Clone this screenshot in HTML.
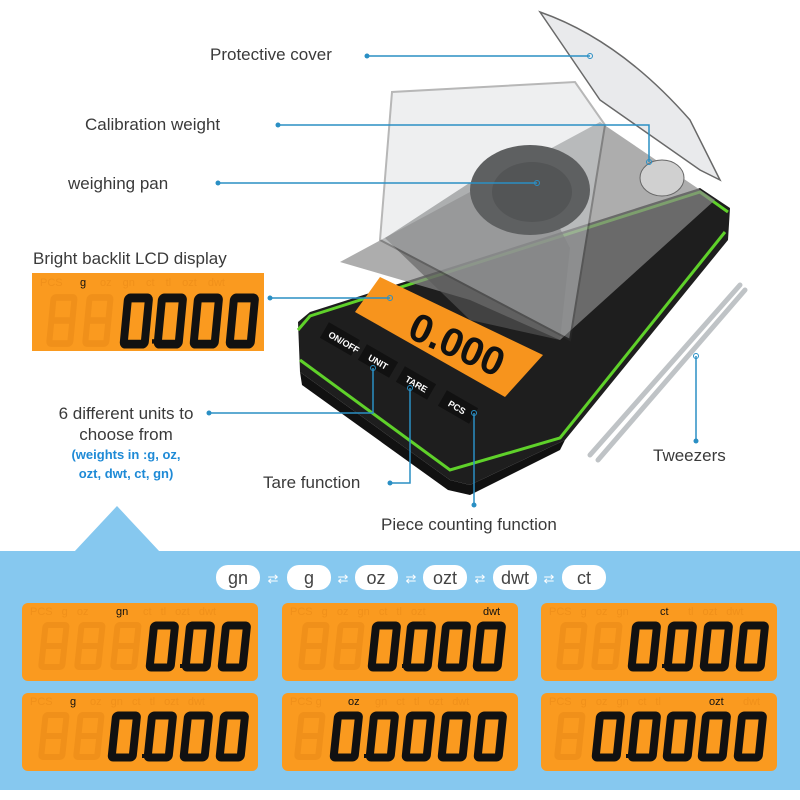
<!DOCTYPE html>
<html><head><meta charset="utf-8"><style>
html,body{margin:0;padding:0;background:#fff}
svg{display:block}
.lb{font-family:"Liberation Sans",sans-serif;font-size:17px;fill:#3a3a3a}
.bl{font-family:"Liberation Sans",sans-serif;font-size:13px;fill:#1e8ad6;font-weight:bold}
.ld{stroke:#2a8fc4;stroke-width:1.5;fill:none}
.dot{fill:#2a8fc4}
.u{font-family:"Liberation Sans",sans-serif;font-size:11px;fill:#f0901a}
.ub{font-family:"Liberation Sans",sans-serif;font-size:11px;fill:#111}
.chip{font-family:"Liberation Sans",sans-serif;font-size:18px;fill:#444;text-anchor:middle}
</style></head><body>
<svg width="800" height="800" viewBox="0 0 800 800" xmlns="http://www.w3.org/2000/svg">
<defs>
<g id="d0"><rect x="4.5" y="4.5" width="21" height="42" rx="2" fill="none" stroke="#111" stroke-width="8" transform="skewX(-6)"/></g>
<g id="d8"><rect x="4" y="4" width="21" height="42" rx="2" fill="none" stroke="#f0901a" stroke-width="6" transform="skewX(-6)"/><line x1="2" y1="25" x2="25" y2="25" stroke="#f0901a" stroke-width="6"/></g>
<g id="dp"><rect width="4" height="4" fill="#111"/></g>
</defs>

<rect x="0" y="551" width="800" height="239" fill="#86c8ef"/>
<polygon points="74,552 160,552 117,506" fill="#86c8ef"/>

<g>
<rect x="216" y="565" width="44" height="25" rx="12" fill="#fff"/><text class="chip" x="238" y="584">gn</text>
<rect x="287" y="565" width="44" height="25" rx="12" fill="#fff"/><text class="chip" x="309" y="584">g</text>
<rect x="355" y="565" width="43" height="25" rx="12" fill="#fff"/><text class="chip" x="376" y="584">oz</text>
<rect x="423" y="565" width="44" height="25" rx="12" fill="#fff"/><text class="chip" x="445" y="584">ozt</text>
<rect x="493" y="565" width="44" height="25" rx="12" fill="#fff"/><text class="chip" x="515" y="584">dwt</text>
<rect x="562" y="565" width="44" height="25" rx="12" fill="#fff"/><text class="chip" x="584" y="584">ct</text>
<g fill="#fff" font-family="Liberation Sans" font-size="13" text-anchor="middle">
<text x="273" y="583">⇄</text><text x="343" y="583">⇄</text><text x="411" y="583">⇄</text><text x="480" y="583">⇄</text><text x="549" y="583">⇄</text></g>
</g>

<g>
<rect x="22" y="603" width="236" height="78" rx="6" fill="#fa9a1f"/>
<rect x="282" y="603" width="236" height="78" rx="6" fill="#fa9a1f"/>
<rect x="541" y="603" width="236" height="78" rx="6" fill="#fa9a1f"/>
<rect x="22" y="693" width="236" height="78" rx="6" fill="#fa9a1f"/>
<rect x="282" y="693" width="236" height="78" rx="6" fill="#fa9a1f"/>
<rect x="541" y="693" width="236" height="78" rx="6" fill="#fa9a1f"/>
</g>
<g>
<text class="u" x="30" y="615" word-spacing="6">PCS  g  oz</text><text class="ub" x="116" y="615">gn</text><text class="u" x="143" y="615" word-spacing="6">ct  tl  ozt  dwt</text>
<text class="u" x="290" y="615" word-spacing="6">PCS  g  oz  gn  ct  tl  ozt</text><text class="ub" x="483" y="615">dwt</text>
<text class="u" x="549" y="615" word-spacing="6">PCS  g  oz  gn</text><text class="ub" x="660" y="615">ct</text><text class="u" x="688" y="615" word-spacing="6">tl  ozt  dwt</text>
<text class="u" x="30" y="705">PCS</text><text class="ub" x="70" y="705">g</text><text class="u" x="90" y="705" word-spacing="6">oz  gn  ct  tl  ozt  dwt</text>
<text class="u" x="290" y="705">PCS  g</text><text class="ub" x="348" y="705">oz</text><text class="u" x="375" y="705" word-spacing="6">gn  ct  tl  ozt  dwt</text>
<text class="u" x="549" y="705" word-spacing="6">PCS  g  oz  gn  ct  tl</text><text class="ub" x="709" y="705">ozt</text><text class="u" x="743" y="705">dwt</text>
</g>
<g>
<use href="#d8" x="42" y="621"/><use href="#d8" x="78" y="621"/><use href="#d8" x="114" y="621"/>
<use href="#d0" x="150" y="621"/><use href="#dp" x="180" y="664"/><use href="#d0" x="186" y="621"/><use href="#d0" x="222" y="621"/>
<use href="#d8" x="302" y="621"/><use href="#d8" x="337" y="621"/>
<use href="#d0" x="372" y="621"/><use href="#dp" x="402" y="664"/><use href="#d0" x="407" y="621"/><use href="#d0" x="442" y="621"/><use href="#d0" x="477" y="621"/>
<use href="#d8" x="560" y="621"/><use href="#d8" x="595" y="621"/>
<use href="#d0" x="632" y="621"/><use href="#dp" x="662" y="664"/><use href="#d0" x="668" y="621"/><use href="#d0" x="704" y="621"/><use href="#d0" x="740" y="621"/>
</g>
<g>
<use href="#d8" x="42" y="711"/><use href="#d8" x="77" y="711"/>
<use href="#d0" x="112" y="711"/><use href="#dp" x="142" y="754"/><use href="#d0" x="148" y="711"/><use href="#d0" x="184" y="711"/><use href="#d0" x="220" y="711"/>
<use href="#d8" x="298" y="711"/>
<use href="#d0" x="334" y="711"/><use href="#dp" x="364" y="754"/><use href="#d0" x="370" y="711"/><use href="#d0" x="406" y="711"/><use href="#d0" x="442" y="711"/><use href="#d0" x="478" y="711"/>
<use href="#d8" x="558" y="711"/>
<use href="#d0" x="596" y="711"/><use href="#dp" x="626" y="754"/><use href="#d0" x="632" y="711"/><use href="#d0" x="667" y="711"/><use href="#d0" x="702" y="711"/><use href="#d0" x="738" y="711"/>
</g>

<rect x="32" y="273" width="232" height="78" fill="#fa9a1f"/>
<text class="u" x="40" y="286" word-spacing="6">PCS</text><text class="ub" x="80" y="286">g</text><text class="u" x="100" y="286" word-spacing="8">oz  gn  ct  tl  ozt  dwt</text>
<g transform="translate(0,-4) scale(1,1.1)">
<use href="#d8" x="50" y="270"/><use href="#d8" x="86" y="270"/>
<use href="#d0" x="124" y="270"/><use href="#dp" x="152" y="312"/><use href="#d0" x="158" y="270"/><use href="#d0" x="194" y="270"/><use href="#d0" x="230" y="270"/>
</g>

<polygon points="298,322 310,312 700,188 730,208 728,240 565,440 470,485 450,480 300,372" fill="#1e1e1e"/>
<polyline points="298,330 310,316 700,192 728,212" fill="none" stroke="#5fd12a" stroke-width="3"/>
<polyline points="300,360 450,470 560,438 725,232" fill="none" stroke="#5fd12a" stroke-width="3"/>
<polygon points="300,372 450,480 470,485 565,440 560,450 470,495 448,490 302,385" fill="#111"/>
<polygon points="340,262 600,122 715,200 560,340 470,300" fill="#8a8a8a" opacity="0.7"/>
<polygon points="385,238 470,320 560,340 570,248 520,150" fill="#5a5a5a" opacity="0.6"/>
<ellipse cx="530" cy="190" rx="60" ry="45" fill="#222"/>
<ellipse cx="532" cy="192" rx="40" ry="30" fill="#111"/>
<ellipse cx="662" cy="178" rx="22" ry="18" fill="#d0d0d0" stroke="#666"/>
<path d="M380,240 L392,92 L575,82 L605,125 L570,340 Z" fill="#cfd3d6" opacity="0.35" stroke="#333" stroke-width="2"/>
<path d="M540,12 Q620,40 690,120 L720,180 L700,170 L600,100 Z" fill="#e4e6e8" opacity="0.8" stroke="#444" stroke-width="1.5"/>
<polygon points="380,277 543,355 505,397 355,312" fill="#f7941d"/>
<text x="405" y="360" font-family="Liberation Sans" font-size="40" font-weight="bold" fill="#111" transform="rotate(24 460 350)">0.000</text>
<g font-family="Liberation Sans" font-size="9" fill="#fff" font-weight="bold">
<rect x="322" y="330" width="36" height="18" fill="#111" transform="rotate(30 340 339)"/><text x="328" y="343" transform="rotate(30 340 339)">ON/OFF</text>
<rect x="360" y="352" width="36" height="18" fill="#111" transform="rotate(30 378 361)"/><text x="368" y="365" transform="rotate(30 378 361)">UNIT</text>
<rect x="398" y="374" width="36" height="18" fill="#111" transform="rotate(30 416 383)"/><text x="405" y="387" transform="rotate(30 416 383)">TARE</text>
<rect x="440" y="398" width="36" height="18" fill="#111" transform="rotate(30 458 407)"/><text x="448" y="411" transform="rotate(30 458 407)">PCS</text>
</g>
<path d="M590,455 L740,285 M598,460 L745,290" stroke="#bfc3c6" stroke-width="5" fill="none" stroke-linecap="round"/>

<text class="lb" x="210" y="60">Protective cover</text>
<text class="lb" x="85" y="130">Calibration weight</text>
<text class="lb" x="68" y="189">weighing pan</text>
<text class="lb" x="33" y="264">Bright backlit LCD display</text>
<text class="lb" x="126" y="419" text-anchor="middle">6 different units to</text>
<text class="lb" x="126" y="440" text-anchor="middle">choose from</text>
<text class="bl" x="126" y="459" text-anchor="middle">(weights in :g, oz,</text>
<text class="bl" x="126" y="478" text-anchor="middle">ozt, dwt, ct, gn)</text>
<text class="lb" x="263" y="488">Tare function</text>
<text class="lb" x="381" y="530">Piece counting function</text>
<text class="lb" x="653" y="461">Tweezers</text>

<polyline class="ld" points="367,56 590,56"/><circle class="dot" cx="367" cy="56" r="2.5"/><circle cx="590" cy="56" r="2.5" fill="none" stroke="#2a8fc4"/>
<polyline class="ld" points="278,125 649,125 649,162"/><circle class="dot" cx="278" cy="125" r="2.5"/><circle cx="649" cy="162" r="2.5" fill="none" stroke="#2a8fc4"/>
<polyline class="ld" points="218,183 537,183"/><circle class="dot" cx="218" cy="183" r="2.5"/><circle cx="537" cy="183" r="2.5" fill="none" stroke="#2a8fc4"/>
<polyline class="ld" points="270,298 390,298"/><circle class="dot" cx="270" cy="298" r="2.5"/><circle cx="390" cy="298" r="2.5" fill="none" stroke="#2a8fc4"/>
<polyline class="ld" points="209,413 373,413 373,368"/><circle class="dot" cx="209" cy="413" r="2.5"/><circle cx="373" cy="368" r="2.5" fill="none" stroke="#2a8fc4"/>
<polyline class="ld" points="390,483 410,483 410,388"/><circle class="dot" cx="390" cy="483" r="2.5"/><circle cx="410" cy="388" r="2.5" fill="none" stroke="#2a8fc4"/>
<polyline class="ld" points="474,505 474,413"/><circle class="dot" cx="474" cy="505" r="2.5"/><circle cx="474" cy="413" r="2.5" fill="none" stroke="#2a8fc4"/>
<polyline class="ld" points="696,441 696,356"/><circle class="dot" cx="696" cy="441" r="2.5"/><circle cx="696" cy="356" r="2.5" fill="none" stroke="#2a8fc4"/>
</svg>
</body></html>
